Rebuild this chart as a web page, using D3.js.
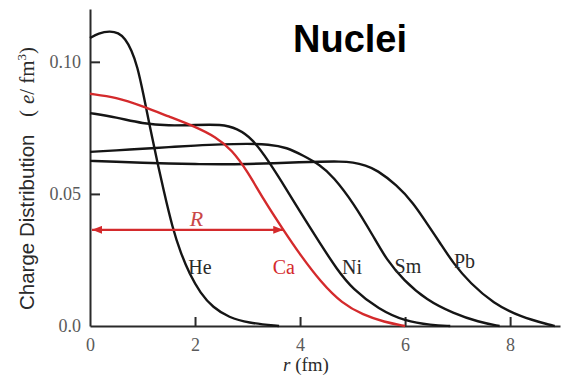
<!DOCTYPE html>
<html>
<head>
<meta charset="utf-8">
<script src="https://cdn.jsdelivr.net/npm/d3@7"></script>
<style>
  html, body { margin: 0; padding: 0; background: #fff; }
  svg { display: block; }
</style>
</head>
<body>
<svg id="chart" width="562" height="380"></svg>
<script>
// Nuclear charge density profiles, r in fm, density in e/fm^3
const heR = [0, 0.16, 0.38, 0.54, 0.67, 0.79, 0.9, 1.02, 1.14, 1.27, 1.40, 1.57, 1.73, 1.9, 2.1, 2.34, 2.65, 3.0, 3.6];
const heV = [0.109, 0.1109, 0.1117, 0.111, 0.1088, 0.1045, 0.0985, 0.0875, 0.0755, 0.0632, 0.0515, 0.0372, 0.0275, 0.0195, 0.0125, 0.0070, 0.0032, 0.0012, 0];

const caR = [0, 0.5, 1.0, 1.5, 2.0, 2.4, 2.7, 3.0, 3.3, 3.68, 4.0, 4.4, 4.8, 5.2, 5.6, 6.0];
const caV = [0.0879, 0.0866, 0.0832, 0.0793, 0.0755, 0.0715, 0.0667, 0.0585, 0.0480, 0.0364, 0.027, 0.0165, 0.0085, 0.0042, 0.0015, 0];

const niR = [0, 0.5, 1.0, 1.5, 2.0, 2.5, 2.8, 3.1, 3.4, 3.75, 4.0, 4.38, 4.7, 5.0, 5.5, 6.0, 6.5, 6.86];
const niV = [0.0806, 0.079, 0.0766, 0.0758, 0.0761, 0.0764, 0.0748, 0.0708, 0.0625, 0.0515, 0.0432, 0.0313, 0.0215, 0.0140, 0.0063, 0.0018, 0.0003, 0];

const smR = [0, 0.5, 1, 1.5, 2, 2.5, 3.0, 3.4, 3.75, 4.06, 4.38, 4.63, 5.02, 5.40, 5.65, 5.97, 6.41, 6.92, 7.4, 7.8];
const smV = [0.0659, 0.0665, 0.0671, 0.0677, 0.0683, 0.0688, 0.069, 0.0688, 0.0676, 0.0645, 0.061, 0.0566, 0.0465, 0.0338, 0.025, 0.0174, 0.0098, 0.0048, 0.0015, 0];

const pbR = [0, 0.5, 1, 1.5, 2, 2.5, 3, 3.5, 4, 4.38, 4.76, 5.01, 5.25, 5.46, 5.84, 6.16, 6.41, 6.67, 6.92, 7.24, 7.68, 8.19, 8.76, 8.85];
const pbV = [0.0625, 0.0622, 0.0618, 0.0615, 0.0613, 0.0612, 0.0613, 0.0616, 0.062, 0.0622, 0.0623, 0.062, 0.0608, 0.0591, 0.0534, 0.0465, 0.039, 0.0313, 0.0237, 0.0162, 0.0086, 0.0035, 0.0004, 0];

const nuclei = ["He", "Ca", "Ni", "Sm", "Pb"];
// label anchor points (r, density) for each nucleus name
const labelR = [1.87, 3.48, 4.8, 5.8, 6.93];
const labelV = [0.0195, 0.0195, 0.0195, 0.020, 0.022];

const xTicks = [0, 2, 4, 6, 8];
const xTickLabels = ["0", "2", "4", "6", "8"];
const yTicks = [0, 0.05, 0.10];
const yTickLabels = ["0.0", "0.05", "0.10"];

// radius marker for Ca: half-density point
const radiusR = 3.68;
const radiusV = 0.0364;

const RED = "#d42a2c";
const INK = "#151515";

const svg = d3.select("#chart");
const x = d3.scaleLinear().domain([0, 8.95]).range([90, 560]);
const y = d3.scaleLinear().domain([0, 0.12]).range([326, 9]);

// axes with inward ticks
const xAxis = d3.axisBottom(x)
  .tickValues(xTicks)
  .tickFormat((d, i) => xTickLabels[i])
  .tickSizeInner(-9).tickSizeOuter(0).tickPadding(10);
const yAxis = d3.axisLeft(y)
  .tickValues(yTicks)
  .tickFormat((d, i) => yTickLabels[i])
  .tickSizeInner(-10).tickSizeOuter(0).tickPadding(9);

const gx = svg.append("g").attr("transform", `translate(0,${y(0)})`).call(xAxis);
const gy = svg.append("g").attr("transform", `translate(${x(0)},0)`).call(yAxis);

[gx, gy].forEach(g => {
  g.select(".domain").attr("stroke", "#2a2a2a").attr("stroke-width", 2);
  g.selectAll(".tick line").attr("stroke", "#2a2a2a").attr("stroke-width", 2);
  g.selectAll(".tick text")
    .attr("fill", "#5a5a5a")
    .style("font-family", "'Liberation Serif', 'Times New Roman', serif")
    .style("font-size", "18px");
});
gx.selectAll(".tick text").attr("dy", "0.85em");
gx.selectAll(".tick").filter(d => d === 0).select("line").remove();
gy.selectAll(".tick").filter(d => d === 0).select("line").remove();

// density curves
const line = d3.line().x(d => x(d[0])).y(d => y(d[1])).curve(d3.curveBasis);
const series = [
  { name: "He", r: heR, v: heV, color: INK },
  { name: "Ni", r: niR, v: niV, color: INK },
  { name: "Sm", r: smR, v: smV, color: INK },
  { name: "Pb", r: pbR, v: pbV, color: INK },
  { name: "Ca", r: caR, v: caV, color: RED }
];
svg.append("g").selectAll("path")
  .data(series)
  .join("path")
  .attr("d", s => line(s.r.map((r, i) => [r, s.v[i]])))
  .attr("fill", "none")
  .attr("stroke", s => s.color)
  .attr("stroke-width", 2.4)
  .attr("stroke-linejoin", "round");

// nucleus labels
svg.append("g").selectAll("text")
  .data(nuclei)
  .join("text")
  .attr("x", (d, i) => x(labelR[i]))
  .attr("y", (d, i) => y(labelV[i]))
  .attr("fill", d => d === "Ca" ? RED : "#2a2a2a")
  .style("font-family", "'Liberation Serif', 'Times New Roman', serif")
  .style("font-size", "20px")
  .text(d => d);

// radius arrow
const defs = svg.append("defs");
defs.append("marker")
  .attr("id", "head")
  .attr("viewBox", "0 0 10 8")
  .attr("refX", 10).attr("refY", 4)
  .attr("markerWidth", 10).attr("markerHeight", 8)
  .attr("markerUnits", "userSpaceOnUse")
  .attr("orient", "auto-start-reverse")
  .append("path").attr("d", "M0,0 L10,4 L0,8 Z").attr("fill", RED);

svg.append("line")
  .attr("x1", x(0) + 2).attr("x2", x(radiusR))
  .attr("y1", y(radiusV)).attr("y2", y(radiusV))
  .attr("stroke", RED).attr("stroke-width", 2.3)
  .attr("marker-start", "url(#head)")
  .attr("marker-end", "url(#head)");

svg.append("text")
  .attr("x", x(1.9)).attr("y", y(radiusV) - 4)
  .attr("fill", "#c94848")
  .style("font-family", "'Liberation Serif', 'Times New Roman', serif")
  .style("font-style", "italic")
  .style("font-size", "22px")
  .text("R");

// x-axis title
const xt = svg.append("text")
  .attr("x", 283).attr("y", 371)
  .attr("fill", "#2a2a2a")
  .style("font-family", "'Liberation Serif', 'Times New Roman', serif")
  .style("font-size", "19px");
xt.append("tspan").style("font-style", "italic").text("r");
xt.append("tspan").text(" (fm)");

// y-axis title: sans name followed by serif units
const yl = svg.append("g").attr("transform", "translate(34,310) rotate(-90)");
yl.append("text")
  .attr("x", 0).attr("y", 0)
  .attr("fill", "#2a2a2a")
  .style("font-family", "'Liberation Sans', Arial, sans-serif")
  .style("font-size", "20.5px")
  .text("Charge Distribution");
const units = yl.append("text")
  .attr("x", 193).attr("y", 0)
  .attr("fill", "#2a2a2a")
  .style("font-family", "'Liberation Serif', 'Times New Roman', serif")
  .style("font-size", "21px");
units.append("tspan").text("(");
units.append("tspan").attr("dx", 6).style("font-style", "italic").text("e");
units.append("tspan").text("/");
units.append("tspan").attr("dx", 5).text("fm");
units.append("tspan").attr("dy", -8).style("font-size", "13px").text("3");
units.append("tspan").attr("dy", 8).text(")");

// title
svg.append("text")
  .attr("x", 293).attr("y", 52)
  .attr("fill", "#000")
  .style("font-family", "'Liberation Sans', Arial, sans-serif")
  .style("font-weight", "bold")
  .style("font-size", "38px")
  .text("Nuclei");
</script>
</body>
</html>
